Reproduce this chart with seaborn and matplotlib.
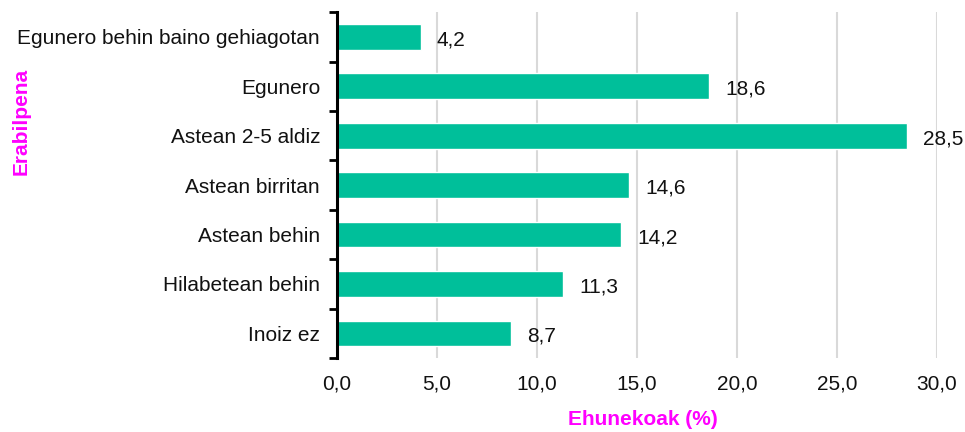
import matplotlib
matplotlib.use("Agg")
import matplotlib.pyplot as plt
import seaborn as sns
import pandas as pd
import numpy as np
from matplotlib.ticker import FixedLocator, FuncFormatter

categories = ["Egunero behin baino gehiagotan", "Egunero", "Astean 2-5 aldiz",
              "Astean birritan", "Astean behin", "Hilabetean behin", "Inoiz ez"]
values = [4.2, 18.6, 28.5, 14.6, 14.2, 11.3, 8.7]
xticks = [0, 5, 10, 15, 20, 25, 30]

sns.set_theme(style="white")
plt.rcParams["font.family"] = ["Liberation Sans", "DejaVu Sans"]

df = pd.DataFrame({"cat": categories, "val": values})

fig = plt.figure(figsize=(9.65, 4.32), dpi=100)
ax = fig.add_axes([0.349, 0.171, 0.622, 0.801])

sns.barplot(data=df, x="val", y="cat", orient="h", color="#00BF9A",
            saturation=1, width=0.52, ax=ax)

ax.set_xlim(0, 30)
ax.set_ylim(len(categories) - 0.5, -0.5)
ax.set_xticks(xticks)
ax.xaxis.set_major_formatter(FuncFormatter(lambda v, p: f"{v:.1f}".replace(".", ",")))
for x in xticks[1:]:
    ax.axvline(x, color="#D9D9D9", lw=1.5, zorder=0)

for i, v in enumerate(values):
    ax.text(v + 0.8, i + 0.06, f"{v:.1f}".replace(".", ","), va="center", ha="left", fontsize=15, color="#111111")

for s in ["top", "right", "bottom"]:
    ax.spines[s].set_visible(False)
ax.spines["left"].set_color("black")
ax.spines["left"].set_linewidth(2.2)

ax.tick_params(axis="y", which="major", length=0, labelsize=15, labelcolor="#111111", pad=12)
ax.yaxis.set_minor_locator(FixedLocator(np.arange(-0.5, len(categories), 1.0)))
ax.tick_params(axis="y", which="minor", left=True, length=6, width=2, color="black", direction="out")
ax.tick_params(axis="x", length=0, labelsize=15, labelcolor="#111111", pad=12)

ax.set_xlabel("")
ax.set_ylabel("")
fig.text(0.666, 0.008, "Ehunekoak (%)", color="#FF00FF", fontweight="bold", fontsize=15, ha="center", va="bottom")
fig.text(0.022, 0.72, "Erabilpena", color="#FF00FF", fontweight="bold", fontsize=15, rotation=90, ha="center", va="center")

fig.savefig("out.png", dpi=100)
